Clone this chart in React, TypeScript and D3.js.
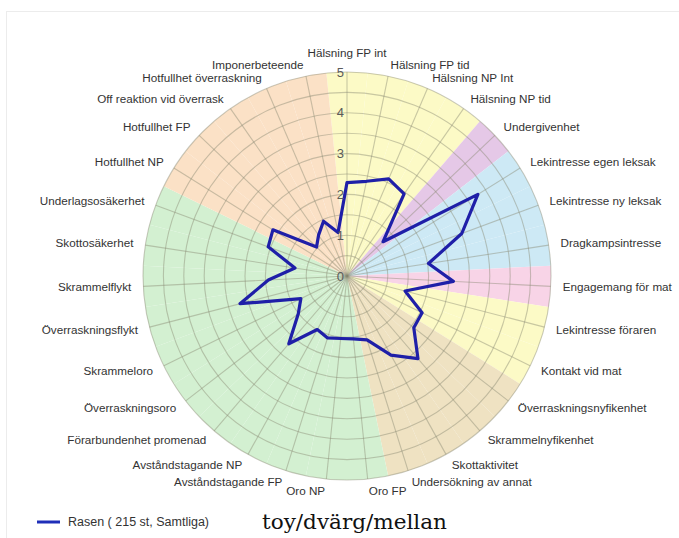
import React, { useRef, useEffect } from 'react';
import * as d3 from 'd3';

// categories clockwise from 12 o'clock
const categories = [
  'Hälsning FP int', 'Hälsning FP tid', 'Hälsning NP Int', 'Hälsning NP tid',
  'Undergivenhet', 'Lekintresse egen leksak', 'Lekintresse ny leksak', 'Dragkampsintresse',
  'Engagemang för mat', 'Lekintresse föraren', 'Kontakt vid mat', 'Överraskningsnyfikenhet',
  'Skrammelnyfikenhet', 'Skottaktivitet', 'Undersökning av annat', 'Oro FP', 'Oro NP',
  'Avståndstagande FP', 'Avståndstagande NP', 'Förarbundenhet promenad', 'Överraskningsoro',
  'Skrammeloro', 'Överraskningsflykt', 'Skrammelflykt', 'Skottosäkerhet', 'Underlagsosäkerhet',
  'Hotfullhet NP', 'Hotfullhet FP', 'Off reaktion vid överrask', 'Hotfullhet överraskning',
  'Imponerbeteende',
];

const rasen = [
  2.29, 2.37, 2.59, 2.45, 1.22, 3.78, 3.0, 2.02, 2.61, 1.47, 2.05, 2.07, 2.67, 2.22, 1.64,
  1.55, 1.54, 1.59, 1.5, 2.19, 1.51, 1.26, 2.71, 1.93, 1.29, 2.06, 2.14, 1.03, 1.22, 1.46, 1.09,
];

// background group of each category
const groups = [
  'social', 'social', 'social', 'social', 'submission', 'play', 'play', 'play', 'food',
  'handler', 'handler', 'curiosity', 'curiosity', 'curiosity', 'curiosity',
  'fear', 'fear', 'fear', 'fear', 'fear', 'fear', 'fear', 'fear', 'fear', 'fear', 'fear',
  'threat', 'threat', 'threat', 'threat', 'threat',
];

const radialTicks = [0, 1, 2, 3, 4, 5];
const legendLabel = 'Rasen ( 215 st, Samtliga)';
const subtitle = 'toy/dvärg/mellan';

const groupColor: Record<string, string> = {
  social: '#fcfac6',
  submission: '#e5c8e7',
  play: '#cde9f5',
  food: '#f8d4e7',
  handler: '#fcfac6',
  curiosity: '#efe2c2',
  fear: '#d3f0d1',
  threat: '#fbe1c6',
};

export default function App() {
  const ref = useRef<SVGSVGElement>(null);

  useEffect(() => {
    const width = 679;
    const height = 538;
    const cx = 347;
    const cy = 276;
    const R = 204;
    const n = categories.length;
    const font = '"Liberation Sans", Arial, sans-serif';

    const svg = d3.select(ref.current);
    svg.selectAll('*').remove();
    svg.attr('viewBox', `0 0 ${width} ${height}`);

    svg.append('rect').attr('width', width).attr('height', height).attr('fill', '#fff');
    // faint frame
    svg.append('rect')
      .attr('x', 6.5).attr('y', 11.5)
      .attr('width', width + 10).attr('height', height + 10)
      .attr('fill', 'none').attr('stroke', '#ececec');

    const r = d3.scaleLinear().domain([0, 5]).range([0, R]);
    const angle = d3.scaleLinear().domain([0, n]).range([0, 2 * Math.PI]);

    const g = svg.append('g').attr('transform', `translate(${cx},${cy})`);

    // coloured sectors
    const arc = d3.arc<number>()
      .innerRadius(0)
      .outerRadius(R)
      .startAngle(i => angle(i - 0.5))
      .endAngle(i => angle(i + 0.5));
    g.selectAll('path.sector')
      .data(d3.range(n))
      .join('path')
      .attr('class', 'sector')
      .attr('d', arc)
      .attr('fill', i => groupColor[groups[i]]);

    // rings every half unit
    const grid = g.append('g')
      .attr('stroke', '#8a8a74')
      .attr('stroke-opacity', 0.45)
      .attr('fill', 'none')
      .attr('stroke-width', 1.1);
    grid.selectAll('circle')
      .data(d3.range(0.5, 5.01, 0.5))
      .join('circle')
      .attr('r', d => r(d));
    grid.selectAll('line')
      .data(d3.range(n))
      .join('line')
      .attr('x1', 0).attr('y1', 0)
      .attr('x2', i => R * Math.sin(angle(i)))
      .attr('y2', i => -R * Math.cos(angle(i)));

    // data polygon
    const line = d3.lineRadial<number>()
      .angle((_, i) => angle(i))
      .radius(d => r(d))
      .curve(d3.curveLinearClosed);
    g.append('path')
      .datum(rasen)
      .attr('d', line)
      .attr('fill', 'none')
      .attr('stroke', '#1f1fa8')
      .attr('stroke-width', 3.2)
      .attr('stroke-linejoin', 'round');

    // radial tick labels
    g.selectAll('text.tick')
      .data(radialTicks)
      .join('text')
      .attr('class', 'tick')
      .attr('x', -3)
      .attr('y', d => -r(d))
      .attr('dy', '0.35em')
      .attr('text-anchor', 'end')
      .attr('font-family', font)
      .attr('font-size', 13)
      .attr('fill', '#5a5a5a')
      .text(d => d);

    // category labels
    const lr = 216;
    g.selectAll('text.cat')
      .data(categories)
      .join('text')
      .attr('class', 'cat')
      .attr('x', (_, i) => lr * Math.sin(angle(i)))
      .attr('y', (_, i) => (i === 0 ? -223 : -lr * Math.cos(angle(i))))
      .attr('dy', '0.35em')
      .attr('text-anchor', (_, i) => {
        const s = Math.sin(angle(i));
        return Math.abs(s) < 0.01 ? 'middle' : s > 0 ? 'start' : 'end';
      })
      .attr('font-family', font)
      .attr('font-size', 11.7)
      .attr('fill', '#333')
      .text(d => d);

    // legend
    const lg = svg.append('g').attr('transform', 'translate(37,522)');
    lg.append('line')
      .attr('x1', 0).attr('x2', 23)
      .attr('stroke', '#1f2fb8').attr('stroke-width', 3);
    lg.append('text')
      .attr('x', 31).attr('dy', '0.35em')
      .attr('font-family', font).attr('font-size', 12.5)
      .attr('fill', '#333')
      .text(legendLabel);

    svg.append('text')
      .attr('x', 262).attr('y', 522).attr('dy', '0.35em')
      .attr('font-family', '"DejaVu Serif", serif')
      .attr('font-size', 20.5)
      .attr('textLength', 185)
      .attr('lengthAdjust', 'spacingAndGlyphs')
      .attr('fill', '#111')
      .text(subtitle);
  }, []);

  return (
    <svg
      ref={ref}
      width={679}
      height={538}
      style={{ position: 'absolute', left: 0, top: 0, display: 'block' }}
    />
  );
}
